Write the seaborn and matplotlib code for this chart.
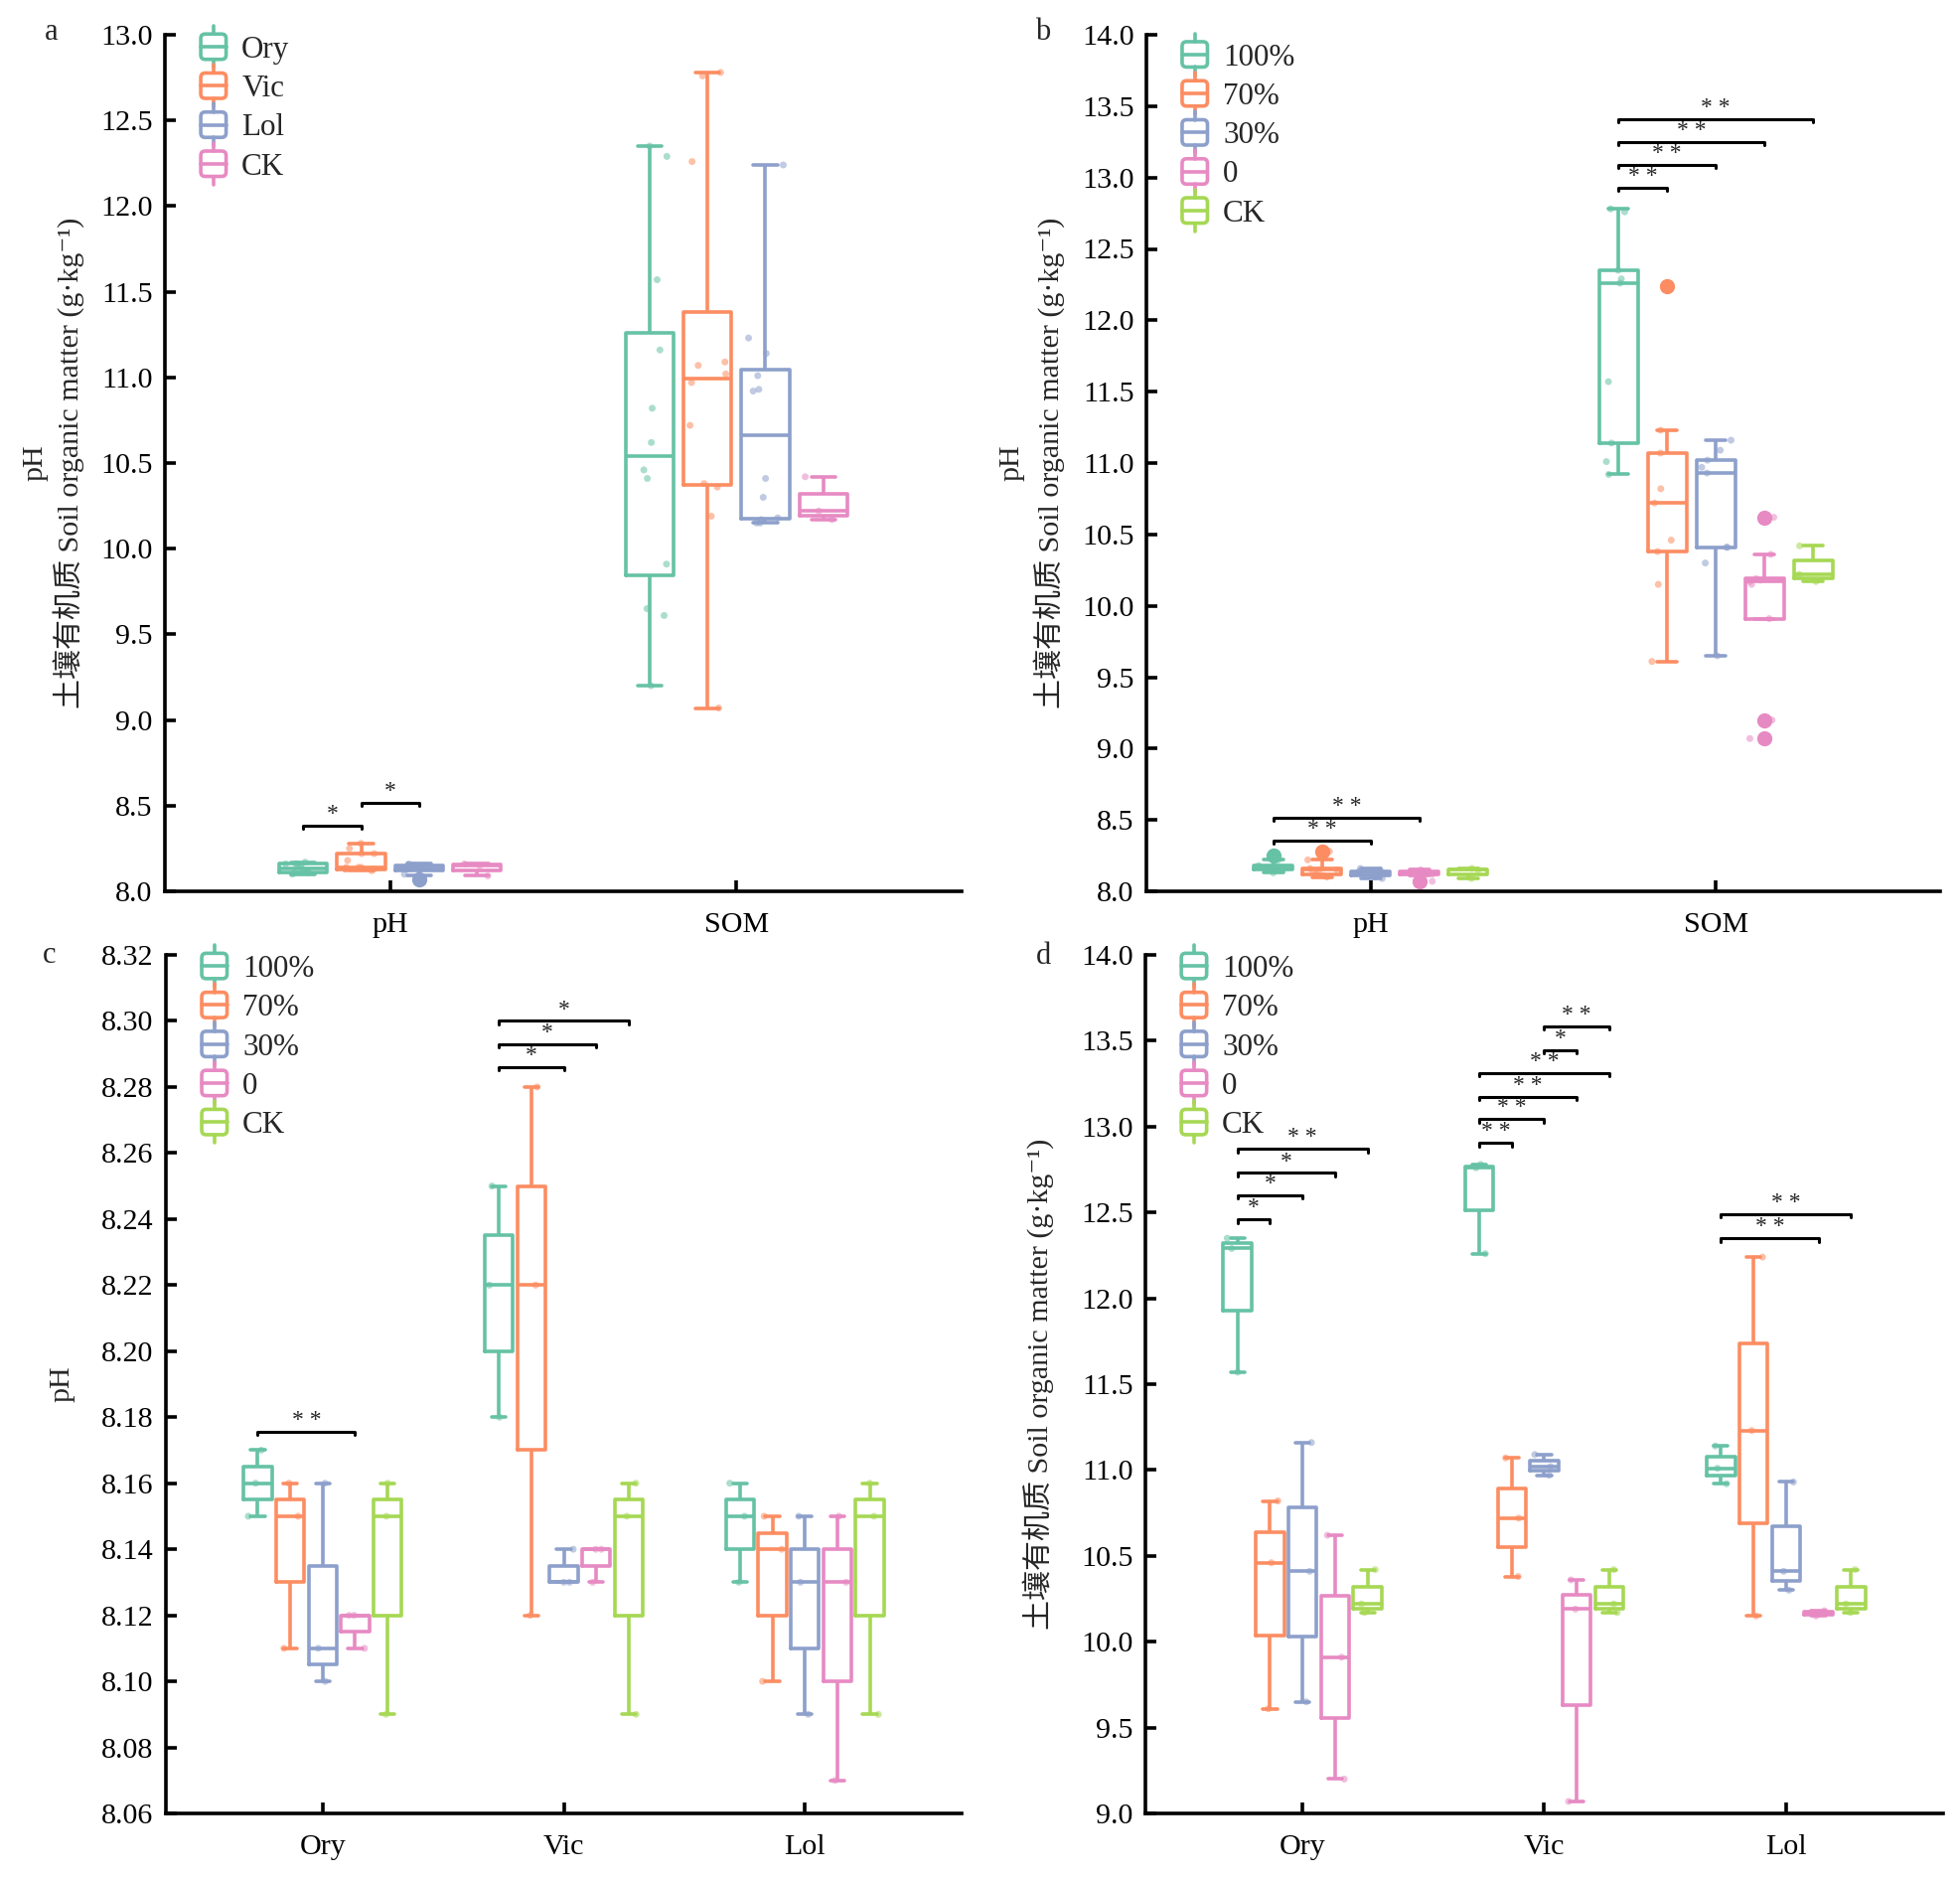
import numpy as np
import pandas as pd
import matplotlib
matplotlib.use("Agg")
import matplotlib.pyplot as plt
import seaborn as sns
from matplotlib.legend_handler import HandlerBase
from matplotlib.patches import Patch, FancyBboxPatch
from matplotlib.lines import Line2D

# ---------------- data ----------------
species = ["Ory", "Vic", "Lol"]
treatments = ["100%", "70%", "30%", "0"]
ck_label = "CK"
variables = ["pH", "SOM"]

# soil organic matter (g/kg); rows = 100%, 70%, 30%, 0 ; 3 replicates each
som_ory = [[11.57, 12.29, 12.35], [9.61, 10.46, 10.82], [9.65, 10.41, 11.16], [9.20, 9.91, 10.62]]
som_vic = [[12.26, 12.76, 12.78], [10.38, 10.72, 11.07], [10.97, 11.02, 11.09], [9.07, 10.19, 10.36]]
som_lol = [[10.92, 11.01, 11.14], [10.15, 11.23, 12.24], [10.30, 10.41, 10.93], [10.15, 10.17, 10.18]]
som_ck = [10.17, 10.22, 10.42]

# soil pH ; rows = 100%, 70%, 30%, 0
ph_ory = [[8.15, 8.16, 8.17], [8.11, 8.15, 8.16], [8.10, 8.11, 8.16], [8.11, 8.12, 8.12]]
ph_vic = [[8.18, 8.22, 8.25], [8.12, 8.22, 8.28], [8.13, 8.13, 8.14], [8.13, 8.14, 8.14]]
ph_lol = [[8.13, 8.15, 8.16], [8.10, 8.14, 8.15], [8.09, 8.13, 8.15], [8.07, 8.13, 8.15]]
ph_ck = [8.09, 8.15, 8.16]

# significance annotations: (group, hue1, hue2, bracket height, label)
sig_a = [("pH", "Ory", "Vic", 8.383, "*"), ("pH", "Vic", "Lol", 8.516, "*")]
sig_b = [("pH", "100%", "30%", 8.355, "**"), ("pH", "100%", "0", 8.516, "**"),
         ("SOM", "100%", "70%", 12.93, "**"), ("SOM", "100%", "30%", 13.09, "**"),
         ("SOM", "100%", "0", 13.25, "**"), ("SOM", "100%", "CK", 13.41, "**")]
sig_c = [("Ory", "100%", "0", 8.1756, "**"), ("Vic", "100%", "30%", 8.286, "*"),
         ("Vic", "100%", "0", 8.293, "*"), ("Vic", "100%", "CK", 8.300, "*")]
sig_d = [("Ory", "100%", "70%", 12.46, "*"), ("Ory", "100%", "30%", 12.60, "*"),
         ("Ory", "100%", "0", 12.73, "*"), ("Ory", "100%", "CK", 12.87, "**"),
         ("Vic", "100%", "70%", 12.905, "**"), ("Vic", "100%", "30%", 13.044, "**"),
         ("Vic", "100%", "0", 13.175, "**"), ("Vic", "100%", "CK", 13.314, "**"),
         ("Vic", "30%", "0", 13.445, "*"), ("Vic", "30%", "CK", 13.584, "**"),
         ("Lol", "100%", "0", 12.35, "**"), ("Lol", "100%", "CK", 12.49, "**")]

som = {"Ory": som_ory, "Vic": som_vic, "Lol": som_lol}
ph = {"Ory": ph_ory, "Vic": ph_vic, "Lol": ph_lol}

# ---------------- style ----------------
sns.set_theme(style="ticks")
FAM = ["Liberation Serif", "Noto Sans CJK SC", "DejaVu Sans"]
plt.rcParams["font.family"] = FAM
plt.rcParams.update({
    "axes.linewidth": 1.3,
    "xtick.direction": "in", "ytick.direction": "in",
    "xtick.major.size": 4, "ytick.major.size": 4,
    "xtick.major.width": 1.3, "ytick.major.width": 1.3,
    "xtick.labelsize": 10.8, "ytick.labelsize": 10.8,
    "xtick.major.pad": 7.5, "ytick.major.pad": 4.5,
    "xtick.color": "black", "ytick.color": "black",
    "axes.edgecolor": "black",
})

pal5 = sns.color_palette("Set2", 5)
pal4 = pal5[:4]
hue5 = treatments + [ck_label]
hue4 = species + [ck_label]

# values per (group, hue)
vals_a = {"pH": {}, "SOM": {}}
for sp in species:
    vals_a["pH"][sp] = sum(ph[sp], [])
    vals_a["SOM"][sp] = sum(som[sp], [])
vals_a["pH"][ck_label] = ph_ck
vals_a["SOM"][ck_label] = som_ck

vals_b = {"pH": {}, "SOM": {}}
for ti, t in enumerate(treatments):
    vals_b["pH"][t] = sum([ph[sp][ti] for sp in species], [])
    vals_b["SOM"][t] = sum([som[sp][ti] for sp in species], [])
vals_b["pH"][ck_label] = ph_ck
vals_b["SOM"][ck_label] = som_ck

vals_c = {sp: {t: ph[sp][ti] for ti, t in enumerate(treatments)} for sp in species}
vals_d = {sp: {t: som[sp][ti] for ti, t in enumerate(treatments)} for sp in species}
for sp in species:
    vals_c[sp][ck_label] = ph_ck
    vals_d[sp][ck_label] = som_ck


def slot_pos(gi, hi, n, slot):
    return gi + (hi - (n - 1) / 2) * slot


def frame(groups, hues, values, slot):
    rows = []
    n = len(hues)
    for gi, g in enumerate(groups):
        for hi, h in enumerate(hues):
            for v in values[g][h]:
                rows.append({"group": g, "hue": h, "pos": slot_pos(gi, hi, n, slot), "value": v})
    return pd.DataFrame(rows)


class BoxHandler(HandlerBase):
    def create_artists(self, legend, orig_handle, xdescent, ydescent, width, height, fontsize, trans):
        col = orig_handle.get_edgecolor()
        lw = 1.3
        bw = width
        bh = fontsize * 0.82
        ws = fontsize * 0.27
        cx = width / 2 - xdescent
        cy = height / 2 - ydescent
        rect = FancyBboxPatch((cx - bw / 2, cy - bh / 2), bw, bh,
                              boxstyle="round,pad=0,rounding_size=1.6",
                              facecolor="none", edgecolor=col, lw=lw, transform=trans)
        med = Line2D([cx - bw / 2, cx + bw / 2], [cy, cy], color=col, lw=lw, transform=trans)
        wt = Line2D([cx, cx], [cy + bh / 2, cy + bh / 2 + ws], color=col, lw=lw, transform=trans)
        wb = Line2D([cx, cx], [cy - bh / 2, cy - bh / 2 - ws], color=col, lw=lw, transform=trans)
        return [rect, med, wt, wb]


def draw(ax, groups, hues, pal, values, slot, boxfrac, xlim, ylim, yticks, yfmt, sigs, leg_y):
    df = frame(groups, hues, values, slot)
    sns.boxplot(data=df, x="pos", y="value", hue="hue", hue_order=hues, palette=pal,
                native_scale=True, dodge=False, fill=False, width=boxfrac, linewidth=1.3,
                whis=1.5, flierprops={"marker": "o", "markersize": 4.5},
                legend=False, orient="x", ax=ax)
    for ln in ax.lines:
        if ln.get_marker() == "o":
            ln.set_markerfacecolor(ln.get_markeredgecolor())
    sns.stripplot(data=df, x="pos", y="value", hue="hue", hue_order=hues, palette=pal,
                  native_scale=True, dodge=False, jitter=0.32, size=2.5, alpha=0.55,
                  linewidth=0, legend=False, orient="x", ax=ax)
    ax.set_xlim(*xlim)
    ax.set_ylim(*ylim)
    ax.set_xticks(range(len(groups)))
    ax.set_xticklabels(groups)
    ax.set_yticks(yticks)
    ax.set_yticklabels([yfmt.format(t) for t in yticks])
    ax.set_xlabel("")
    ax.set_ylabel("")
    sns.despine(ax=ax)
    n = len(hues)
    yr = ylim[1] - ylim[0]
    for g, h1, h2, y, lab in sigs:
        gi = groups.index(g)
        x1 = slot_pos(gi, hues.index(h1), n, slot)
        x2 = slot_pos(gi, hues.index(h2), n, slot)
        d = yr * 0.004
        ax.plot([x1, x1, x2, x2], [y - d, y, y, y - d], color="black", lw=1.1,
                solid_capstyle="round", solid_joinstyle="round", clip_on=False)
        ax.annotate(" ".join(lab), xy=((x1 + x2) / 2, y), xytext=(0, 0.3), textcoords="offset points",
                    ha="center", va="bottom", fontsize=8.5, family=FAM)
    handles = [Patch(edgecolor=c, facecolor="none") for c in pal]
    ax.legend(handles, hues, handler_map={Patch: BoxHandler()}, loc="upper left",
              bbox_to_anchor=(0.045, leg_y), frameon=False, fontsize=11.2,
              handlelength=0.82, handleheight=0.7, labelspacing=0.33, handletextpad=0.5,
              borderaxespad=0, borderpad=0)


np.random.seed(2)
W, H = 1973, 1891
fig = plt.figure(figsize=(W / 200, H / 200), dpi=200)

ax_a = fig.add_axes([166 / W, 1 - 897 / H, (968 - 166) / W, (897 - 35) / H])
ax_b = fig.add_axes([1154 / W, 1 - 897 / H, (1953 - 1154) / W, (897 - 35) / H])
ax_c = fig.add_axes([167 / W, 1 - 1825 / H, (968 - 167) / W, (1825 - 961) / H])
ax_d = fig.add_axes([1153 / W, 1 - 1825 / H, (1956 - 1153) / W, (1825 - 961) / H])

draw(ax_a, variables, hue4, pal4, vals_a, 0.167, 0.83, (-0.65, 1.65), (8.0, 13.0),
     np.arange(8.0, 13.01, 0.5), "{:.1f}", sig_a, 0.999)
draw(ax_b, variables, hue5, pal5, vals_b, 0.141, 0.80, (-0.65, 1.65), (8.0, 14.0),
     np.arange(8.0, 14.01, 0.5), "{:.1f}", sig_b, 0.99)
draw(ax_c, species, hue5, pal5, vals_c, 0.1345, 0.87, (-0.65, 2.65), (8.06, 8.32),
     np.arange(8.06, 8.3201, 0.02), "{:.2f}", sig_c, 1.0)
draw(ax_d, species, hue5, pal5, vals_d, 0.1345, 0.87, (-0.65, 2.65), (9.0, 14.0),
     np.arange(9.0, 14.01, 0.5), "{:.1f}", sig_d, 1.0)

som_label = "土壤有机质 Soil organic matter (g·kg⁻¹)"
lab_kw = dict(rotation=90, ha="center", va="center", fontsize=10.8, family=FAM)
ax_a.text(-0.163, 0.5, "pH", transform=ax_a.transAxes, **lab_kw)
ax_a.text(-0.121, 0.5, som_label, transform=ax_a.transAxes, **lab_kw)
ax_b.text(-0.170, 0.5, "pH", transform=ax_b.transAxes, **lab_kw)
ax_b.text(-0.1227, 0.5, som_label, transform=ax_b.transAxes, **lab_kw)
ax_c.text(-0.130, 0.5, "pH", transform=ax_c.transAxes, **lab_kw)
ax_d.text(-0.1345, 0.5, som_label, transform=ax_d.transAxes, **lab_kw)

for lab, (px, py) in zip("abcd", [(52, 32), (1050, 32), (50, 962), (1050, 963)]):
    fig.text(px / W, 1 - py / H, lab, ha="center", va="center", fontsize=11, family=FAM)

fig.savefig("out.png", dpi=200)
